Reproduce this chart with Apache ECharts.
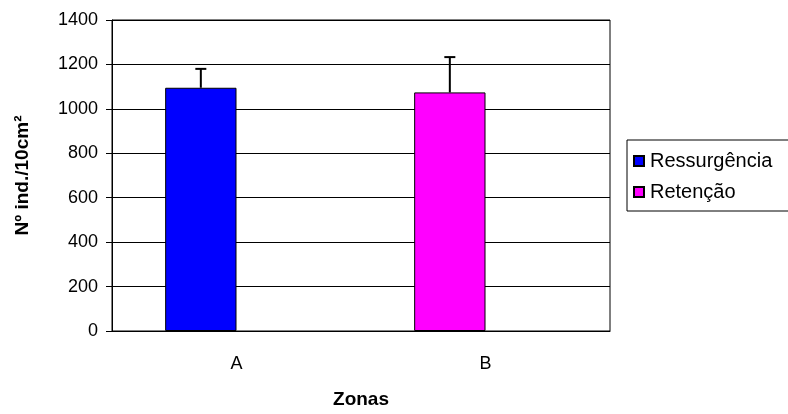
<!DOCTYPE html>
<html>
<head>
<meta charset="utf-8">
<script src="https://cdn.jsdelivr.net/npm/echarts@6/dist/echarts.min.js"></script>
<style>
html, body { margin: 0; padding: 0; background: #fff; }
#chart { width: 788px; height: 414px; }
</style>
</head>
<body>
<div id="chart"></div>
<script>
var zonas = ['A', 'B'];
var ressurgencia = [1095, '-'];
var retencao = ['-', 1074];
// upper end of the error bars
var erroTopo = [1180, 1233];
var barras = [1095, 1074];

var fonte = 'Liberation Sans, Arial, sans-serif';
var myChart = echarts.init(document.getElementById('chart'));

var erroData = zonas.map(function (z, i) {
    return [i, barras[i], erroTopo[i]];
});

var option = {
    backgroundColor: '#fff',
    animation: false,
    grid: {
        left: 112, top: 20, right: 178, bottom: 82,
        show: true, borderColor: '#000', borderWidth: 1
    },
    legend: {
        orient: 'vertical',
        left: 627, top: 140,
        data: ['Ressurgência', 'Retenção'],
        icon: 'rect',
        itemWidth: 10, itemHeight: 10,
        itemGap: 11,
        padding: [11, 30, 9, 6],
        borderColor: '#000', borderWidth: 1,
        textStyle: { fontFamily: fonte, fontSize: 20, color: '#000', padding: [0, 0, 0, 1] }
    },
    xAxis: {
        type: 'category',
        data: zonas,
        name: 'Zonas',
        nameLocation: 'middle',
        nameGap: 59,
        nameTextStyle: { fontFamily: fonte, fontSize: 19, fontWeight: 'bold', color: '#000' },
        axisLine: { lineStyle: { color: '#000', width: 1 } },
        axisTick: { length: 6, lineStyle: { color: '#000' } },
        axisLabel: { margin: 24, fontFamily: fonte, fontSize: 18, color: '#000' }
    },
    yAxis: {
        type: 'value',
        min: 0, max: 1400, interval: 200,
        name: 'Nº ind./10cm²',
        nameLocation: 'middle',
        nameGap: 80,
        nameTextStyle: { fontFamily: fonte, fontSize: 19, fontWeight: 'bold', color: '#000' },
        axisLine: { show: true, lineStyle: { color: '#000', width: 1 } },
        axisTick: { show: true, length: 6, lineStyle: { color: '#000' } },
        axisLabel: {
            margin: 14, fontFamily: fonte, fontSize: 18, color: '#000',
            formatter: function (v) { return String(v); }
        },
        splitLine: { lineStyle: { color: '#000', width: 1 } }
    },
    series: [
        {
            name: 'Ressurgência', type: 'bar', stack: 'z',
            data: ressurgencia,
            barGap: '0%', barCategoryGap: '42.7%',
            itemStyle: { color: '#0000ff', borderColor: '#000', borderWidth: 1 }
        },
        {
            name: 'Retenção', type: 'bar', stack: 'z',
            data: retencao,
            itemStyle: { color: '#ff00ff', borderColor: '#000', borderWidth: 1 }
        },
        {
            // empty slot, keeps the bars on the left half of each zone
            name: 'vazio', type: 'bar',
            data: ['-', '-']
        },
        {
            name: 'erro', type: 'custom',
            data: erroData,
            z: 10,
            renderItem: function (params, api) {
                var base = api.coord([api.value(0), api.value(1)]);
                var topo = api.coord([api.value(0), api.value(2)]);
                var w = api.size([1, 0])[0];
                var x = base[0] - w * 0.573 / 4;
                var estilo = { stroke: '#000', lineWidth: 2 };
                return {
                    type: 'group',
                    children: [
                        { type: 'line', shape: { x1: x, y1: base[1], x2: x, y2: topo[1] }, style: estilo },
                        { type: 'line', shape: { x1: x - 5.5, y1: topo[1], x2: x + 5.5, y2: topo[1] }, style: estilo }
                    ]
                };
            }
        }
    ]
};

myChart.setOption(option);
</script>
</body>
</html>
